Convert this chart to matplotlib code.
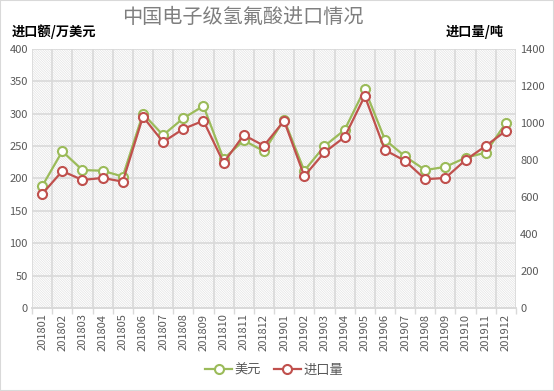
#!/usr/bin/env python3

import numpy as np
import matplotlib
matplotlib.use("Agg")
import matplotlib.pyplot as plt
from matplotlib.patches import Rectangle
from matplotlib.ticker import FixedLocator, MultipleLocator

plt.rcParams['font.family'] = ['Noto Sans CJK SC', 'DejaVu Sans']
plt.rcParams['hatch.color'] = '#e0e0e0'
plt.rcParams['hatch.linewidth'] = 0.45

months = ['201801', '201802', '201803', '201804', '201805', '201806',
          '201807', '201808', '201809', '201810', '201811', '201812',
          '201901', '201902', '201903', '201904', '201905', '201906',
          '201907', '201908', '201909', '201910', '201911', '201912']
usd = [188, 242, 213, 212, 203, 300, 267, 293, 312, 230, 259, 242,
       291, 212, 250, 275, 338, 260, 234, 213, 218, 232, 240, 286]
tons = [616, 740, 692, 703, 683, 1034, 897, 968, 1012, 785, 935, 877,
        1012, 713, 841, 924, 1146, 854, 795, 696, 703, 800, 876, 958]

green = '#9bbb59'
red = '#c0504d'
grid_c = '#d9d9d9'
txt_c = '#595959'

fig = plt.figure(figsize=(5.54, 3.91), dpi=100)
fig.patches.append(Rectangle((0, 0), 1, 1, transform=fig.transFigure,
                             fill=False, edgecolor=grid_c, lw=1.5))

ax = fig.add_axes([0.0578, 0.2123, 0.8736, 0.6624])
ax2 = ax.twinx()

# hatched plot background
ax.add_patch(Rectangle((0, 0), 1, 1, transform=ax.transAxes, facecolor='white',
                       edgecolor='#e0e0e0', lw=0, hatch='\\' * 14, zorder=0))

x = np.arange(len(months))
ax.plot(x, usd, color=green, lw=1.6, marker='o', ms=6.5, mfc='white',
        mec=green, mew=1.5, label='美元', zorder=3)
ax2.plot(x, tons, color=red, lw=1.6, marker='o', ms=6.5, mfc='white',
         mec=red, mew=1.5, label='进口量', zorder=3)

ax.set_xlim(-0.5, len(months) - 0.5)
ax.set_ylim(0, 400)
ax2.set_ylim(0, 1400)
ax.yaxis.set_major_locator(MultipleLocator(50))
ax2.yaxis.set_major_locator(MultipleLocator(200))

ax.set_xticks(x)
ax.set_xticklabels(months, rotation=90, fontsize=8, color=txt_c)
ax.xaxis.set_minor_locator(FixedLocator(np.arange(-0.5, len(months), 1)))
ax.tick_params(axis='x', which='major', length=0, pad=4)
ax.tick_params(axis='x', which='minor', length=4, color=grid_c, width=1)
ax.tick_params(axis='y', length=0, labelsize=8, labelcolor=txt_c, pad=3)
ax2.tick_params(axis='y', length=0, labelsize=8, labelcolor=txt_c, pad=3)

ax.grid(True, axis='y', which='major', color=grid_c, lw=1.2, zorder=1)
ax.grid(True, axis='x', which='minor', color=grid_c, lw=1.2, zorder=1)
ax.set_axisbelow(True)

for a in (ax, ax2):
    for s in ('top', 'left', 'right'):
        a.spines[s].set_visible(False)
    a.spines['bottom'].set_color(grid_c)
    a.spines['bottom'].set_linewidth(1.2)

fig.text(0.438, 0.955, '中国电子级氢氟酸进口情况', ha='center', va='center',
         fontsize=14.5, color='#7f7f7f')
fig.text(0.022, 0.918, '进口额/万美元', ha='left', va='center',
         fontsize=9.5, fontweight='bold', color='black')
fig.text(0.91, 0.918, '进口量/吨', ha='right', va='center',
         fontsize=9.5, fontweight='bold', color='black')

h1, l1 = ax.get_legend_handles_labels()
h2, l2 = ax2.get_legend_handles_labels()
fig.legend(h1 + h2, l1 + l2, loc='center', bbox_to_anchor=(0.495, 0.054),
           ncol=2, frameon=False, fontsize=9.5, labelcolor=txt_c,
           handlelength=2.0, columnspacing=1.0, handletextpad=0.2)

plt.savefig('out.png', dpi=100)
